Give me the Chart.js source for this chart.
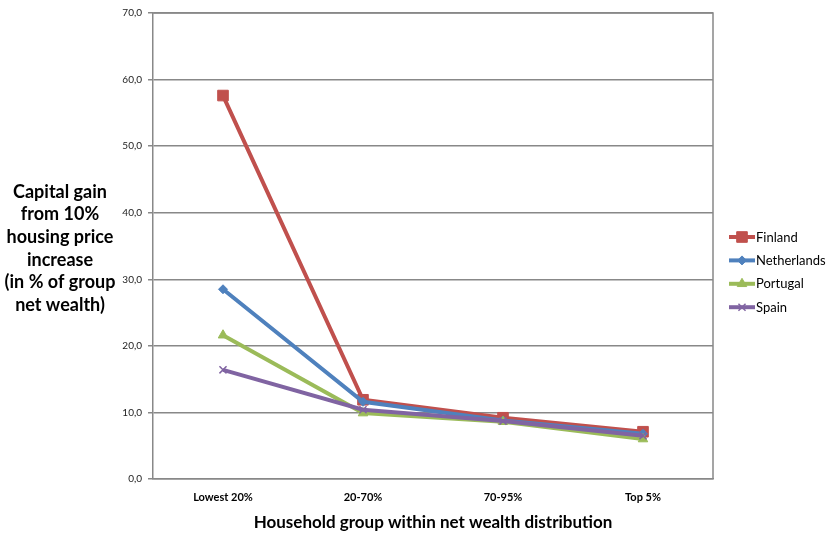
<!DOCTYPE html>
<html>
<head>
<meta charset="utf-8">
<script src="https://cdn.jsdelivr.net/npm/chart.js@4/dist/chart.umd.min.js"></script>
<style>
html,body{margin:0;padding:0;background:#fff;}
#wrap{width:828px;height:533px;position:relative;}
</style>
</head>
<body>
<div id="wrap"><canvas id="c" width="828" height="533"></canvas></div>
<script>
const categories = ["Lowest 20%", "20-70%", "70-95%", "Top 5%"];
const finland = [57.6, 11.9, 9.2, 7.1];
const netherlands = [28.5, 11.6, 8.8, 6.8];
const portugal = [21.6, 9.9, 8.6, 6.0];
const spain = [16.4, 10.4, 8.7, 6.5];
const yTitleLines = ["Capital gain", "from 10%", "housing price", "increase", "(in % of group", "net wealth)"];
const xTitle = "Household group within net wealth distribution";

const FONT = "Lato, 'Open Sans', sans-serif";
const series = [
  {label:"Finland", data:finland, color:"#C0504D", style:"rect", r:7.5, order:3},
  {label:"Netherlands", data:netherlands, color:"#4F81BD", style:"rectRot", r:4.5, order:2},
  {label:"Portugal", data:portugal, color:"#9BBB59", style:"triangle", r:5.5, order:1},
  {label:"Spain", data:spain, color:"#8064A2", style:"crossRot", r:5, order:0}
];

const extras = {
  id:"extras",
  afterDraw(chart){
    const ctx = chart.ctx, a = chart.chartArea;
    ctx.save();
    ctx.strokeStyle = "#888";
    ctx.lineWidth = 1.5;
    ctx.beginPath();
    ctx.moveTo(a.left, a.top); ctx.lineTo(a.right, a.top);
    ctx.lineTo(a.right, a.bottom);
    ctx.stroke();
    // y title
    ctx.fillStyle = "#000";
    ctx.font = "bold 18px " + FONT;
    ctx.textAlign = "center";
    ctx.textBaseline = "middle";
    const cy = 248.5, lh = 22.6;
    yTitleLines.forEach((t,i)=>{
      ctx.fillText(t, 60, cy + (i - (yTitleLines.length-1)/2)*lh);
    });
    // legend
    ctx.font = "13px " + FONT;
    ctx.textAlign = "left";
    series.forEach((s,i)=>{
      const y = 237 + i*23.4;
      ctx.strokeStyle = s.color; ctx.lineWidth = 4;
      ctx.beginPath(); ctx.moveTo(729, y); ctx.lineTo(755, y); ctx.stroke();
      ctx.fillStyle = s.color; ctx.strokeStyle = s.color;
      ctx.lineWidth = s.style==="crossRot" ? 1.5 : 1;
      Chart.helpers.drawPoint(ctx, {pointStyle:s.style, radius:s.r, borderWidth: ctx.lineWidth, rotation:0}, 742, y);
      ctx.fillStyle = "#000";
      ctx.fillText(s.label, 756, y+0.5);
    });
    ctx.restore();
  }
};

new Chart(document.getElementById("c"), {
  type:"line",
  data:{
    labels:categories,
    datasets: series.map(s=>({
      label:s.label, data:s.data, borderColor:s.color, backgroundColor:s.color,
      borderWidth:4, pointStyle:s.style, pointRadius:s.r, pointBorderWidth: s.style==="crossRot"?1.5:1,
      pointBackgroundColor:s.color, pointBorderColor:s.color, tension:0, order:s.order
    }))
  },
  options:{
    responsive:false, animation:false,
    layout:{padding:{left:0, right:115, top:13, bottom:0}},
    plugins:{legend:{display:false}, tooltip:{enabled:false}},
    scales:{
      x:{
        offset:true,
        grid:{display:false, drawTicks:false},
        border:{color:"#888", width:1.5},
        ticks:{font:{family:FONT, size:11, weight:"bold"}, color:"#000", padding:12, maxRotation:0},
        title:{display:true, text:xTitle, font:{family:FONT, size:17, weight:"bold"}, color:"#000", padding:{top:2,bottom:0}},
        afterFit(s){ s.height = 54; }
      },
      y:{
        min:0, max:70,
        ticks:{stepSize:10, font:{family:FONT, size:10}, color:"#222", padding:6,
          callback:v=>v.toFixed(1).replace(".", ",")},
        grid:{color:"#888", lineWidth:1.5, tickLength:5, tickColor:"#888"},
        border:{color:"#888", width:1.5},
        afterFit(s){ s.width = 153; }
      }
    }
  },
  plugins:[extras]
});
</script>
</body>
</html>
